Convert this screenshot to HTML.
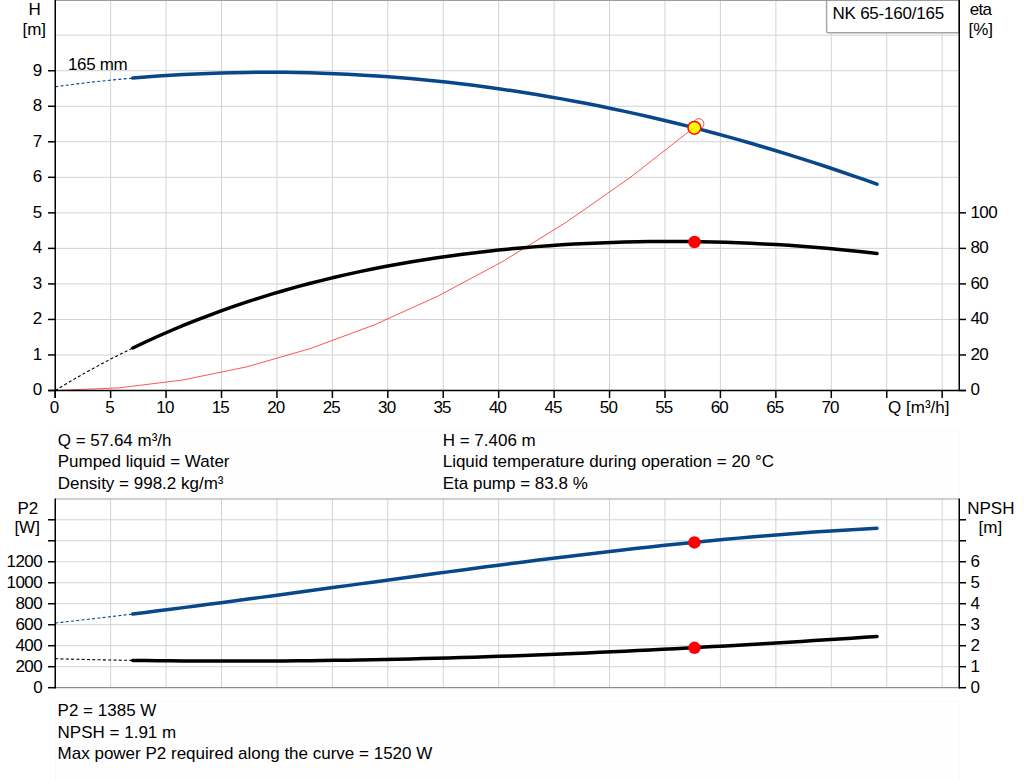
<!DOCTYPE html>
<html><head><meta charset="utf-8"><style>
html,body{margin:0;padding:0;background:#fff;}
body{width:1024px;height:781px;overflow:hidden;}
svg{display:block;}
text{font-family:"Liberation Sans",sans-serif;font-size:17px;fill:#000;}
</style></head><body>
<svg width="1024" height="781" viewBox="0 0 1024 781">
<rect width="1024" height="781" fill="#fff"/>
<rect x="55.5" y="430.5" width="903.5" height="67" fill="#fefefe" stroke="#fafafa" stroke-width="1"/>
<rect x="55.5" y="701.5" width="903.5" height="82" fill="#fefefe" stroke="#fafafa" stroke-width="1"/>
<line x1="110.64" y1="0" x2="110.64" y2="390.5" stroke="#d0d3d6" stroke-width="1"/>
<line x1="166.07" y1="0" x2="166.07" y2="390.5" stroke="#d0d3d6" stroke-width="1"/>
<line x1="221.50" y1="0" x2="221.50" y2="390.5" stroke="#d0d3d6" stroke-width="1"/>
<line x1="276.94" y1="0" x2="276.94" y2="390.5" stroke="#d0d3d6" stroke-width="1"/>
<line x1="332.38" y1="0" x2="332.38" y2="390.5" stroke="#d0d3d6" stroke-width="1"/>
<line x1="387.81" y1="0" x2="387.81" y2="390.5" stroke="#d0d3d6" stroke-width="1"/>
<line x1="443.25" y1="0" x2="443.25" y2="390.5" stroke="#d0d3d6" stroke-width="1"/>
<line x1="498.68" y1="0" x2="498.68" y2="390.5" stroke="#d0d3d6" stroke-width="1"/>
<line x1="554.12" y1="0" x2="554.12" y2="390.5" stroke="#d0d3d6" stroke-width="1"/>
<line x1="609.55" y1="0" x2="609.55" y2="390.5" stroke="#d0d3d6" stroke-width="1"/>
<line x1="664.99" y1="0" x2="664.99" y2="390.5" stroke="#d0d3d6" stroke-width="1"/>
<line x1="720.42" y1="0" x2="720.42" y2="390.5" stroke="#d0d3d6" stroke-width="1"/>
<line x1="775.86" y1="0" x2="775.86" y2="390.5" stroke="#d0d3d6" stroke-width="1"/>
<line x1="831.29" y1="0" x2="831.29" y2="390.5" stroke="#d0d3d6" stroke-width="1"/>
<line x1="886.73" y1="0" x2="886.73" y2="390.5" stroke="#d0d3d6" stroke-width="1"/>
<line x1="942.16" y1="0" x2="942.16" y2="390.5" stroke="#d0d3d6" stroke-width="1"/>
<line x1="55" y1="354.97" x2="959" y2="354.97" stroke="#d0d3d6" stroke-width="1"/>
<line x1="55" y1="319.44" x2="959" y2="319.44" stroke="#d0d3d6" stroke-width="1"/>
<line x1="55" y1="283.91" x2="959" y2="283.91" stroke="#d0d3d6" stroke-width="1"/>
<line x1="55" y1="248.38" x2="959" y2="248.38" stroke="#d0d3d6" stroke-width="1"/>
<line x1="55" y1="212.85" x2="959" y2="212.85" stroke="#d0d3d6" stroke-width="1"/>
<line x1="55" y1="177.32" x2="959" y2="177.32" stroke="#d0d3d6" stroke-width="1"/>
<line x1="55" y1="141.79" x2="959" y2="141.79" stroke="#d0d3d6" stroke-width="1"/>
<line x1="55" y1="106.26" x2="959" y2="106.26" stroke="#d0d3d6" stroke-width="1"/>
<line x1="55" y1="70.73" x2="959" y2="70.73" stroke="#d0d3d6" stroke-width="1"/>
<line x1="55" y1="35.20" x2="959" y2="35.20" stroke="#d0d3d6" stroke-width="1"/>
<line x1="55" y1="0.5" x2="959" y2="0.5" stroke="#9b9d9f" stroke-width="1.2"/>
<line x1="110.64" y1="499" x2="110.64" y2="687.7" stroke="#d0d3d6" stroke-width="1"/>
<line x1="166.07" y1="499" x2="166.07" y2="687.7" stroke="#d0d3d6" stroke-width="1"/>
<line x1="221.50" y1="499" x2="221.50" y2="687.7" stroke="#d0d3d6" stroke-width="1"/>
<line x1="276.94" y1="499" x2="276.94" y2="687.7" stroke="#d0d3d6" stroke-width="1"/>
<line x1="332.38" y1="499" x2="332.38" y2="687.7" stroke="#d0d3d6" stroke-width="1"/>
<line x1="387.81" y1="499" x2="387.81" y2="687.7" stroke="#d0d3d6" stroke-width="1"/>
<line x1="443.25" y1="499" x2="443.25" y2="687.7" stroke="#d0d3d6" stroke-width="1"/>
<line x1="498.68" y1="499" x2="498.68" y2="687.7" stroke="#d0d3d6" stroke-width="1"/>
<line x1="554.12" y1="499" x2="554.12" y2="687.7" stroke="#d0d3d6" stroke-width="1"/>
<line x1="609.55" y1="499" x2="609.55" y2="687.7" stroke="#d0d3d6" stroke-width="1"/>
<line x1="664.99" y1="499" x2="664.99" y2="687.7" stroke="#d0d3d6" stroke-width="1"/>
<line x1="720.42" y1="499" x2="720.42" y2="687.7" stroke="#d0d3d6" stroke-width="1"/>
<line x1="775.86" y1="499" x2="775.86" y2="687.7" stroke="#d0d3d6" stroke-width="1"/>
<line x1="831.29" y1="499" x2="831.29" y2="687.7" stroke="#d0d3d6" stroke-width="1"/>
<line x1="886.73" y1="499" x2="886.73" y2="687.7" stroke="#d0d3d6" stroke-width="1"/>
<line x1="942.16" y1="499" x2="942.16" y2="687.7" stroke="#d0d3d6" stroke-width="1"/>
<line x1="55" y1="666.71" x2="959" y2="666.71" stroke="#d0d3d6" stroke-width="1"/>
<line x1="55" y1="645.72" x2="959" y2="645.72" stroke="#d0d3d6" stroke-width="1"/>
<line x1="55" y1="624.73" x2="959" y2="624.73" stroke="#d0d3d6" stroke-width="1"/>
<line x1="55" y1="603.74" x2="959" y2="603.74" stroke="#d0d3d6" stroke-width="1"/>
<line x1="55" y1="582.75" x2="959" y2="582.75" stroke="#d0d3d6" stroke-width="1"/>
<line x1="55" y1="561.76" x2="959" y2="561.76" stroke="#d0d3d6" stroke-width="1"/>
<line x1="55" y1="540.77" x2="959" y2="540.77" stroke="#d0d3d6" stroke-width="1"/>
<line x1="55" y1="519.78" x2="959" y2="519.78" stroke="#d0d3d6" stroke-width="1"/>
<line x1="55" y1="499" x2="959" y2="499" stroke="#a0a2a4" stroke-width="1.2"/>
<line x1="55" y1="687.7" x2="959" y2="687.7" stroke="#8a8c8e" stroke-width="1.2"/>
<rect x="826.6" y="-2" width="132.4" height="34.8" rx="1.5" fill="#fff" stroke="#a4a4a4" stroke-width="1.4"/>
<line x1="55" y1="0.5" x2="959" y2="0.5" stroke="#9b9d9f" stroke-width="1.2"/>
<path d="M55.20,390.50 L119.11,387.87 L183.01,379.97 L246.92,366.82 L310.82,348.40 L374.73,324.72 L438.63,295.77 L502.54,261.56 L566.44,222.09 L630.35,177.36 L694.25,127.36" fill="none" stroke="#ff2828" stroke-width="0.8"/>
<path d="M55.20,86.74 L66.29,85.26 L77.37,83.87 L88.46,82.55 L99.55,81.31 L110.64,80.16 L121.72,79.08 L132.81,78.08" fill="none" stroke="#07478a" stroke-width="1.1" stroke-dasharray="3,2.3"/>
<path d="M132.81,78.08 L145.42,77.04 L158.03,76.11 L170.65,75.28 L183.26,74.55 L195.87,73.92 L208.49,73.39 L221.10,72.97 L233.71,72.64 L246.32,72.42 L258.94,72.30 L271.55,72.27 L284.16,72.35 L296.78,72.53 L309.39,72.81 L322.00,73.18 L334.61,73.66 L347.23,74.23 L359.84,74.91 L372.45,75.68 L385.07,76.55 L397.68,77.51 L410.29,78.58 L422.91,79.74 L435.52,81.00 L448.13,82.36 L460.74,83.81 L473.36,85.36 L485.97,87.00 L498.58,88.74 L511.20,90.58 L523.81,92.51 L536.42,94.54 L549.03,96.66 L561.65,98.87 L574.26,101.18 L586.87,103.58 L599.49,106.08 L612.10,108.67 L624.71,111.36 L637.32,114.13 L649.94,117.00 L662.55,119.96 L675.16,123.02 L687.78,126.16 L700.39,129.40 L713.00,132.73 L725.61,136.15 L738.23,139.66 L750.84,143.26 L763.45,146.95 L776.07,150.74 L788.68,154.61 L801.29,158.57 L813.90,162.62 L826.52,166.76 L839.13,170.99 L851.74,175.30 L864.36,179.71 L876.97,184.20" fill="none" stroke="#07478a" stroke-width="3.5" stroke-linecap="round" stroke-linejoin="round"/>
<path d="M55.20,390.46 L66.29,383.77 L77.37,377.29 L88.46,371.02 L99.55,364.97 L110.64,359.11 L121.72,353.46 L132.81,348.00" fill="none" stroke="#000" stroke-width="1.1" stroke-dasharray="3,2.3"/>
<path d="M132.81,348.00 L145.42,342.01 L158.03,336.27 L170.65,330.75 L183.26,325.46 L195.87,320.39 L208.49,315.52 L221.10,310.87 L233.71,306.41 L246.32,302.15 L258.94,298.07 L271.55,294.18 L284.16,290.47 L296.78,286.92 L309.39,283.55 L322.00,280.34 L334.61,277.28 L347.23,274.38 L359.84,271.63 L372.45,269.02 L385.07,266.55 L397.68,264.22 L410.29,262.02 L422.91,259.96 L435.52,258.01 L448.13,256.19 L460.74,254.49 L473.36,252.91 L485.97,251.44 L498.58,250.08 L511.20,248.82 L523.81,247.68 L536.42,246.63 L549.03,245.69 L561.65,244.85 L574.26,244.10 L586.87,243.45 L599.49,242.90 L612.10,242.43 L624.71,242.06 L637.32,241.79 L649.94,241.60 L662.55,241.50 L675.16,241.49 L687.78,241.56 L700.39,241.73 L713.00,241.98 L725.61,242.32 L738.23,242.75 L750.84,243.27 L763.45,243.88 L776.07,244.57 L788.68,245.36 L801.29,246.24 L813.90,247.21 L826.52,248.27 L839.13,249.43 L851.74,250.69 L864.36,252.04 L876.97,253.50" fill="none" stroke="#000" stroke-width="3.5" stroke-linecap="round" stroke-linejoin="round"/>
<path d="M55.20,623.03 L66.29,621.80 L77.37,620.54 L88.46,619.26 L99.55,617.97 L110.64,616.65 L121.72,615.32 L132.81,613.97" fill="none" stroke="#07478a" stroke-width="1.1" stroke-dasharray="3,2.3"/>
<path d="M132.81,613.97 L145.42,612.41 L158.03,610.83 L170.65,609.24 L183.26,607.62 L195.87,605.99 L208.49,604.35 L221.10,602.69 L233.71,601.02 L246.32,599.33 L258.94,597.64 L271.55,595.94 L284.16,594.23 L296.78,592.51 L309.39,590.79 L322.00,589.06 L334.61,587.34 L347.23,585.61 L359.84,583.88 L372.45,582.15 L385.07,580.42 L397.68,578.70 L410.29,576.98 L422.91,575.27 L435.52,573.57 L448.13,571.87 L460.74,570.19 L473.36,568.51 L485.97,566.85 L498.58,565.20 L511.20,563.57 L523.81,561.95 L536.42,560.35 L549.03,558.77 L561.65,557.21 L574.26,555.67 L586.87,554.15 L599.49,552.65 L612.10,551.18 L624.71,549.74 L637.32,548.32 L649.94,546.93 L662.55,545.58 L675.16,544.25 L687.78,542.95 L700.39,541.69 L713.00,540.47 L725.61,539.28 L738.23,538.13 L750.84,537.01 L763.45,535.94 L776.07,534.90 L788.68,533.91 L801.29,532.97 L813.90,532.06 L826.52,531.21 L839.13,530.40 L851.74,529.64 L864.36,528.93 L876.97,528.27" fill="none" stroke="#07478a" stroke-width="3.5" stroke-linecap="round" stroke-linejoin="round"/>
<path d="M55.20,658.74 L66.29,659.04 L77.37,659.31 L88.46,659.56 L99.55,659.80 L110.64,660.01 L121.72,660.21 L132.81,660.38" fill="none" stroke="#000" stroke-width="1.1" stroke-dasharray="3,2.3"/>
<path d="M132.81,660.38 L145.42,660.56 L158.03,660.71 L170.65,660.83 L183.26,660.94 L195.87,661.01 L208.49,661.07 L221.10,661.10 L233.71,661.11 L246.32,661.09 L258.94,661.05 L271.55,660.99 L284.16,660.91 L296.78,660.81 L309.39,660.68 L322.00,660.53 L334.61,660.36 L347.23,660.17 L359.84,659.96 L372.45,659.73 L385.07,659.48 L397.68,659.20 L410.29,658.91 L422.91,658.60 L435.52,658.27 L448.13,657.92 L460.74,657.55 L473.36,657.17 L485.97,656.76 L498.58,656.34 L511.20,655.90 L523.81,655.44 L536.42,654.96 L549.03,654.47 L561.65,653.96 L574.26,653.43 L586.87,652.89 L599.49,652.33 L612.10,651.75 L624.71,651.16 L637.32,650.56 L649.94,649.94 L662.55,649.30 L675.16,648.65 L687.78,647.99 L700.39,647.31 L713.00,646.61 L725.61,645.91 L738.23,645.19 L750.84,644.46 L763.45,643.71 L776.07,642.95 L788.68,642.18 L801.29,641.40 L813.90,640.60 L826.52,639.80 L839.13,638.98 L851.74,638.15 L864.36,637.31 L876.97,636.46" fill="none" stroke="#000" stroke-width="3.5" stroke-linecap="round" stroke-linejoin="round"/>
<circle cx="698.8" cy="123.7" r="5.1" fill="none" stroke="#ff3030" stroke-width="0.9"/>
<circle cx="694.4" cy="127.8" r="6.4" fill="#ffff00" stroke="#ff0000" stroke-width="1.5"/>
<line x1="688.25" y1="132.36" x2="694.4" y2="127.6" stroke="#ff6000" stroke-width="0.8" opacity="0.6"/>
<circle cx="694.5" cy="242.0" r="6.25" fill="#ff0000"/>
<circle cx="694.4" cy="542.4" r="6.25" fill="#ff0000"/>
<circle cx="694.5" cy="647.8" r="6.25" fill="#ff0000"/>
<line x1="55.25" y1="0" x2="55.25" y2="398" stroke="#000" stroke-width="1.5"/>
<line x1="959.25" y1="0" x2="959.25" y2="390.5" stroke="#000" stroke-width="1.5"/>
<line x1="48" y1="390.5" x2="966" y2="390.5" stroke="#000" stroke-width="1.5"/>
<line x1="48" y1="390.50" x2="55" y2="390.50" stroke="#000" stroke-width="1.5"/>
<line x1="48" y1="354.97" x2="55" y2="354.97" stroke="#000" stroke-width="1.5"/>
<line x1="48" y1="319.44" x2="55" y2="319.44" stroke="#000" stroke-width="1.5"/>
<line x1="48" y1="283.91" x2="55" y2="283.91" stroke="#000" stroke-width="1.5"/>
<line x1="48" y1="248.38" x2="55" y2="248.38" stroke="#000" stroke-width="1.5"/>
<line x1="48" y1="212.85" x2="55" y2="212.85" stroke="#000" stroke-width="1.5"/>
<line x1="48" y1="177.32" x2="55" y2="177.32" stroke="#000" stroke-width="1.5"/>
<line x1="48" y1="141.79" x2="55" y2="141.79" stroke="#000" stroke-width="1.5"/>
<line x1="48" y1="106.26" x2="55" y2="106.26" stroke="#000" stroke-width="1.5"/>
<line x1="48" y1="70.73" x2="55" y2="70.73" stroke="#000" stroke-width="1.5"/>
<line x1="959" y1="390.50" x2="966" y2="390.50" stroke="#000" stroke-width="1.5"/>
<line x1="959" y1="354.97" x2="966" y2="354.97" stroke="#000" stroke-width="1.5"/>
<line x1="959" y1="319.44" x2="966" y2="319.44" stroke="#000" stroke-width="1.5"/>
<line x1="959" y1="283.91" x2="966" y2="283.91" stroke="#000" stroke-width="1.5"/>
<line x1="959" y1="248.38" x2="966" y2="248.38" stroke="#000" stroke-width="1.5"/>
<line x1="959" y1="212.85" x2="966" y2="212.85" stroke="#000" stroke-width="1.5"/>
<line x1="55.20" y1="390.5" x2="55.20" y2="398" stroke="#000" stroke-width="1.5"/>
<line x1="110.64" y1="390.5" x2="110.64" y2="398" stroke="#000" stroke-width="1.5"/>
<line x1="166.07" y1="390.5" x2="166.07" y2="398" stroke="#000" stroke-width="1.5"/>
<line x1="221.50" y1="390.5" x2="221.50" y2="398" stroke="#000" stroke-width="1.5"/>
<line x1="276.94" y1="390.5" x2="276.94" y2="398" stroke="#000" stroke-width="1.5"/>
<line x1="332.38" y1="390.5" x2="332.38" y2="398" stroke="#000" stroke-width="1.5"/>
<line x1="387.81" y1="390.5" x2="387.81" y2="398" stroke="#000" stroke-width="1.5"/>
<line x1="443.25" y1="390.5" x2="443.25" y2="398" stroke="#000" stroke-width="1.5"/>
<line x1="498.68" y1="390.5" x2="498.68" y2="398" stroke="#000" stroke-width="1.5"/>
<line x1="554.12" y1="390.5" x2="554.12" y2="398" stroke="#000" stroke-width="1.5"/>
<line x1="609.55" y1="390.5" x2="609.55" y2="398" stroke="#000" stroke-width="1.5"/>
<line x1="664.99" y1="390.5" x2="664.99" y2="398" stroke="#000" stroke-width="1.5"/>
<line x1="720.42" y1="390.5" x2="720.42" y2="398" stroke="#000" stroke-width="1.5"/>
<line x1="775.86" y1="390.5" x2="775.86" y2="398" stroke="#000" stroke-width="1.5"/>
<line x1="831.29" y1="390.5" x2="831.29" y2="398" stroke="#000" stroke-width="1.5"/>
<line x1="886.73" y1="390.5" x2="886.73" y2="398" stroke="#000" stroke-width="1.5"/>
<line x1="942.16" y1="390.5" x2="942.16" y2="398" stroke="#000" stroke-width="1.5"/>
<line x1="55.25" y1="498.5" x2="55.25" y2="688.4000000000001" stroke="#000" stroke-width="1.5"/>
<line x1="959.25" y1="498.5" x2="959.25" y2="688.4000000000001" stroke="#000" stroke-width="1.5"/>
<line x1="48" y1="687.70" x2="55" y2="687.70" stroke="#000" stroke-width="1.5"/>
<line x1="959" y1="687.70" x2="966" y2="687.70" stroke="#000" stroke-width="1.5"/>
<line x1="48" y1="666.71" x2="55" y2="666.71" stroke="#000" stroke-width="1.5"/>
<line x1="959" y1="666.71" x2="966" y2="666.71" stroke="#000" stroke-width="1.5"/>
<line x1="48" y1="645.72" x2="55" y2="645.72" stroke="#000" stroke-width="1.5"/>
<line x1="959" y1="645.72" x2="966" y2="645.72" stroke="#000" stroke-width="1.5"/>
<line x1="48" y1="624.73" x2="55" y2="624.73" stroke="#000" stroke-width="1.5"/>
<line x1="959" y1="624.73" x2="966" y2="624.73" stroke="#000" stroke-width="1.5"/>
<line x1="48" y1="603.74" x2="55" y2="603.74" stroke="#000" stroke-width="1.5"/>
<line x1="959" y1="603.74" x2="966" y2="603.74" stroke="#000" stroke-width="1.5"/>
<line x1="48" y1="582.75" x2="55" y2="582.75" stroke="#000" stroke-width="1.5"/>
<line x1="959" y1="582.75" x2="966" y2="582.75" stroke="#000" stroke-width="1.5"/>
<line x1="48" y1="561.76" x2="55" y2="561.76" stroke="#000" stroke-width="1.5"/>
<line x1="959" y1="561.76" x2="966" y2="561.76" stroke="#000" stroke-width="1.5"/>
<line x1="48" y1="540.77" x2="55" y2="540.77" stroke="#000" stroke-width="1.5"/>
<line x1="959" y1="540.77" x2="966" y2="540.77" stroke="#000" stroke-width="1.5"/>
<line x1="48" y1="519.78" x2="55" y2="519.78" stroke="#000" stroke-width="1.5"/>
<line x1="959" y1="519.78" x2="966" y2="519.78" stroke="#000" stroke-width="1.5"/>
<text x="42.20" y="395.40" text-anchor="end">0</text>
<text x="42.20" y="359.87" text-anchor="end">1</text>
<text x="42.20" y="324.34" text-anchor="end">2</text>
<text x="42.20" y="288.81" text-anchor="end">3</text>
<text x="42.20" y="253.28" text-anchor="end">4</text>
<text x="42.20" y="217.75" text-anchor="end">5</text>
<text x="42.20" y="182.22" text-anchor="end">6</text>
<text x="42.20" y="146.69" text-anchor="end">7</text>
<text x="42.20" y="111.16" text-anchor="end">8</text>
<text x="42.20" y="75.63" text-anchor="end">9</text>
<text x="970.60" y="395.40" text-anchor="start">0</text>
<text x="970.60" y="359.87" text-anchor="start" textLength="18" lengthAdjust="spacing">20</text>
<text x="970.60" y="324.34" text-anchor="start" textLength="18" lengthAdjust="spacing">40</text>
<text x="970.60" y="288.81" text-anchor="start" textLength="18" lengthAdjust="spacing">60</text>
<text x="970.60" y="253.28" text-anchor="start" textLength="18" lengthAdjust="spacing">80</text>
<text x="970.60" y="217.75" text-anchor="start" textLength="27" lengthAdjust="spacing">100</text>
<text x="54.50" y="412.60" text-anchor="middle">0</text>
<text x="109.94" y="412.60" text-anchor="middle">5</text>
<text x="165.37" y="412.60" text-anchor="middle" textLength="18" lengthAdjust="spacing">10</text>
<text x="220.81" y="412.60" text-anchor="middle" textLength="18" lengthAdjust="spacing">15</text>
<text x="276.24" y="412.60" text-anchor="middle" textLength="18" lengthAdjust="spacing">20</text>
<text x="331.68" y="412.60" text-anchor="middle" textLength="18" lengthAdjust="spacing">25</text>
<text x="387.11" y="412.60" text-anchor="middle" textLength="18" lengthAdjust="spacing">30</text>
<text x="442.55" y="412.60" text-anchor="middle" textLength="18" lengthAdjust="spacing">35</text>
<text x="497.98" y="412.60" text-anchor="middle" textLength="18" lengthAdjust="spacing">40</text>
<text x="553.41" y="412.60" text-anchor="middle" textLength="18" lengthAdjust="spacing">45</text>
<text x="608.85" y="412.60" text-anchor="middle" textLength="18" lengthAdjust="spacing">50</text>
<text x="664.28" y="412.60" text-anchor="middle" textLength="18" lengthAdjust="spacing">55</text>
<text x="719.72" y="412.60" text-anchor="middle" textLength="18" lengthAdjust="spacing">60</text>
<text x="775.15" y="412.60" text-anchor="middle" textLength="18" lengthAdjust="spacing">65</text>
<text x="830.59" y="412.60" text-anchor="middle" textLength="18" lengthAdjust="spacing">70</text>
<text x="888.10" y="412.60" text-anchor="start">Q [m³/h]</text>
<text x="34.70" y="14.90" text-anchor="middle">H</text>
<text x="34.30" y="34.90" text-anchor="middle">[m]</text>
<text x="980.90" y="14.80" text-anchor="middle" textLength="22.2" lengthAdjust="spacing">eta</text>
<text x="980.80" y="34.80" text-anchor="middle">[%]</text>
<text x="832.50" y="18.70" text-anchor="start" textLength="111.6" lengthAdjust="spacing">NK 65-160/165</text>
<text x="68.00" y="69.90" text-anchor="start" textLength="59.6" lengthAdjust="spacing">165 mm</text>
<text x="57.70" y="446.00" text-anchor="start">Q = 57.64 m³/h</text>
<text x="57.70" y="467.30" text-anchor="start">Pumped liquid = Water</text>
<text x="57.70" y="488.50" text-anchor="start">Density = 998.2 kg/m³</text>
<text x="442.70" y="446.00" text-anchor="start">H = 7.406 m</text>
<text x="442.70" y="467.30" text-anchor="start">Liquid temperature during operation = 20 °C</text>
<text x="442.70" y="488.50" text-anchor="start">Eta pump = 83.8 %</text>
<text x="42.60" y="692.60" text-anchor="end">0</text>
<text x="970.60" y="692.60" text-anchor="start">0</text>
<text x="42.60" y="671.61" text-anchor="end" textLength="27" lengthAdjust="spacing">200</text>
<text x="970.60" y="671.61" text-anchor="start">1</text>
<text x="42.60" y="650.62" text-anchor="end" textLength="27" lengthAdjust="spacing">400</text>
<text x="970.60" y="650.62" text-anchor="start">2</text>
<text x="42.60" y="629.63" text-anchor="end" textLength="27" lengthAdjust="spacing">600</text>
<text x="970.60" y="629.63" text-anchor="start">3</text>
<text x="42.60" y="608.64" text-anchor="end" textLength="27" lengthAdjust="spacing">800</text>
<text x="970.60" y="608.64" text-anchor="start">4</text>
<text x="42.60" y="587.65" text-anchor="end" textLength="36" lengthAdjust="spacing">1000</text>
<text x="970.60" y="587.65" text-anchor="start">5</text>
<text x="42.60" y="566.66" text-anchor="end" textLength="36" lengthAdjust="spacing">1200</text>
<text x="970.60" y="566.66" text-anchor="start">6</text>
<text x="27.80" y="514.00" text-anchor="middle">P2</text>
<text x="27.15" y="533.00" text-anchor="middle">[W]</text>
<text x="990.85" y="513.90" text-anchor="middle">NPSH</text>
<text x="990.40" y="532.50" text-anchor="middle">[m]</text>
<text x="57.60" y="715.90" text-anchor="start">P2 = 1385 W</text>
<text x="57.60" y="737.70" text-anchor="start">NPSH = 1.91 m</text>
<text x="57.60" y="758.90" text-anchor="start">Max power P2 required along the curve = 1520 W</text>
</svg>
</body></html>
